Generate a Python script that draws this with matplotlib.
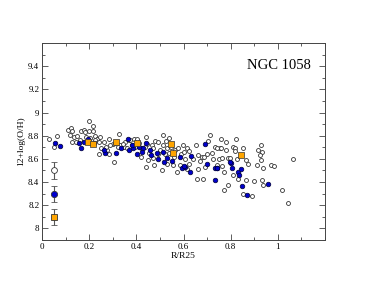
import numpy as np
import matplotlib
matplotlib.use('Agg')
import matplotlib.pyplot as plt
from matplotlib.ticker import MultipleLocator

# open circles (all regions)
open_x = [0.031, 0.062, 0.050, 0.110, 0.124, 0.127, 0.119, 0.134, 0.144, 0.127,
          0.167, 0.176, 0.198, 0.215, 0.184, 0.200, 0.215, 0.226, 0.233, 0.247,
          0.261, 0.240, 0.275, 0.283, 0.304, 0.328, 0.283, 0.300, 0.353, 0.367,
          0.346, 0.360, 0.332, 0.240, 0.251, 0.373, 0.390, 0.401, 0.441, 0.444,
          0.465, 0.479, 0.493, 0.511, 0.525, 0.539, 0.514, 0.531, 0.545, 0.564,
          0.578, 0.599, 0.613, 0.624, 0.653, 0.662, 0.677, 0.686, 0.705, 0.712,
          0.719, 0.726, 0.754, 0.450, 0.441, 0.475, 0.507, 0.531, 0.556, 0.585,
          0.571, 0.613, 0.624, 0.655, 0.683, 0.662, 0.690, 0.733, 0.751, 0.758,
          0.780, 0.822, 0.744, 0.758, 0.782, 0.811, 0.820, 0.820, 0.853, 0.764,
          0.787, 0.797, 0.825, 0.867, 0.874, 0.931, 0.928, 0.917, 0.924, 0.928,
          0.910, 0.938, 0.970, 0.984, 1.065, 0.740, 0.761, 0.773, 0.811, 0.829,
          0.867, 0.900, 0.931, 0.938, 0.787, 0.773, 0.853, 0.889, 1.016, 1.044,
          0.150, 0.160, 0.185, 0.205, 0.225, 0.290, 0.310, 0.320, 0.380, 0.395,
          0.410, 0.420, 0.435, 0.455, 0.470, 0.490, 0.500, 0.520, 0.540, 0.560,
          0.590, 0.605, 0.640, 0.670, 0.700, 0.270, 0.345, 0.420, 0.470, 0.600]
open_y = [8.775, 8.800, 8.706, 8.850, 8.867, 8.840, 8.810, 8.785, 8.750, 8.750,
          8.840, 8.850, 8.925, 8.885, 8.830, 8.840, 8.840, 8.800, 8.775, 8.785,
          8.750, 8.645, 8.675, 8.645, 8.575, 8.815, 8.770, 8.730, 8.746, 8.760,
          8.703, 8.690, 8.724, 8.746, 8.690, 8.760, 8.770, 8.775, 8.787, 8.732,
          8.717, 8.752, 8.746, 8.810, 8.752, 8.780, 8.717, 8.690, 8.700, 8.674,
          8.694, 8.717, 8.690, 8.666, 8.717, 8.630, 8.616, 8.616, 8.752, 8.804,
          8.654, 8.600, 8.690, 8.588, 8.530, 8.545, 8.500, 8.560, 8.545, 8.545,
          8.490, 8.516, 8.560, 8.430, 8.430, 8.516, 8.530, 8.703, 8.600, 8.770,
          8.746, 8.775, 8.690, 8.694, 8.674, 8.703, 8.694, 8.666, 8.694, 8.610,
          8.610, 8.610, 8.596, 8.588, 8.560, 8.660, 8.717, 8.674, 8.637, 8.588,
          8.550, 8.520, 8.550, 8.540, 8.596, 8.545, 8.540, 8.487, 8.464, 8.430,
          8.415, 8.406, 8.415, 8.372, 8.378, 8.330, 8.300, 8.277, 8.330, 8.220,
          8.800, 8.760, 8.790, 8.780, 8.760, 8.720, 8.740, 8.700, 8.720, 8.700,
          8.740, 8.690, 8.700, 8.650, 8.690, 8.640, 8.680, 8.640, 8.650, 8.620,
          8.640, 8.600, 8.600, 8.580, 8.640, 8.700, 8.730, 8.620, 8.610, 8.660]

# filled blue circles
blue_x = [0.056, 0.078, 0.155, 0.167, 0.177, 0.194, 0.219, 0.268, 0.263, 0.314,
          0.336, 0.364, 0.370, 0.387, 0.404, 0.429, 0.424, 0.458, 0.462, 0.489,
          0.493, 0.514, 0.517, 0.531, 0.549, 0.585, 0.592, 0.606, 0.630, 0.627,
          0.692, 0.700, 0.733, 0.743, 0.733, 0.740, 0.800, 0.804, 0.832, 0.843,
          0.835, 0.849, 0.871, 0.959, 0.602, 0.797, 0.380, 0.440, 0.410]
blue_y = [8.735, 8.710, 8.737, 8.695, 8.750, 8.775, 8.740, 8.655, 8.675, 8.655,
          8.690, 8.775, 8.680, 8.690, 8.645, 8.695, 8.660, 8.675, 8.630, 8.655,
          8.600, 8.660, 8.575, 8.610, 8.580, 8.615, 8.520, 8.530, 8.625, 8.487,
          8.725, 8.560, 8.520, 8.520, 8.420, 8.520, 8.567, 8.520, 8.490, 8.510,
          8.460, 8.366, 8.285, 8.380, 8.536, 8.573, 8.720, 8.740, 8.700]

# orange squares
orange_x = [0.194, 0.215, 0.314, 0.401, 0.548, 0.556, 0.843]
orange_y = [8.750, 8.725, 8.750, 8.735, 8.725, 8.655, 8.637]

# typical error bars (x = 0.05)
err_y = [8.5, 8.3, 8.1]
err_size = 0.07

plt.rcParams['font.family'] = ['Liberation Serif', 'DejaVu Serif']

fig = plt.figure(figsize=(3.66, 2.83), dpi=100)
ax = fig.add_axes([0.115, 0.152, 0.773, 0.696])

ax.scatter(open_x, open_y, s=8, facecolors='white', edgecolors='#333333',
           linewidths=0.6, zorder=2)
ax.scatter(blue_x, blue_y, s=11, facecolors='#0000cc', edgecolors='#000033',
           linewidths=0.5, zorder=3)
ax.scatter(orange_x, orange_y, s=15, marker='s', facecolors='#ffa500',
           edgecolors='#333333', linewidths=0.5, zorder=4)

styles = [('o', 'white', 4.2), ('o', '#0000cc', 4.5), ('s', '#ffa500', 4)]
for yv, (m, fc, ms) in zip(err_y, styles):
    ax.errorbar([0.05], [yv], yerr=err_size, fmt=m, ms=ms, mfc=fc, mec='#333333',
                mew=0.6, ecolor='#555555', elinewidth=0.8, capsize=2.5, capthick=0.8,
                zorder=5)

ax.set_xlim(0, 1.2)
ax.set_ylim(7.9, 9.6)
ax.set_xticks([0, 0.2, 0.4, 0.6, 0.8, 1])
ax.set_xticklabels(['0', '0.2', '0.4', '0.6', '0.8', '1'])
ax.set_yticks([8, 8.2, 8.4, 8.6, 8.8, 9, 9.2, 9.4])
ax.set_yticklabels(['8', '8.2', '8.4', '8.6', '8.8', '9', '9.2', '9.4'])
ax.xaxis.set_minor_locator(MultipleLocator(0.1))
ax.yaxis.set_minor_locator(MultipleLocator(0.1))
ax.tick_params(which='both', direction='in', top=True, right=True,
               labelsize=6.5, width=0.6, color='#444444', pad=2)
ax.tick_params(which='major', length=4)
ax.tick_params(which='minor', length=2)
for sp in ax.spines.values():
    sp.set_linewidth(0.7)
    sp.set_color('#444444')

ax.set_xlabel('R/R25', fontsize=6.8, labelpad=1)
ax.set_ylabel('12+log(O/H)', fontsize=6.8, labelpad=2)
ax.text(1.14, 9.41, 'NGC 1058', fontsize=10.5, ha='right', va='center')

fig.savefig('out.png', dpi=100)
